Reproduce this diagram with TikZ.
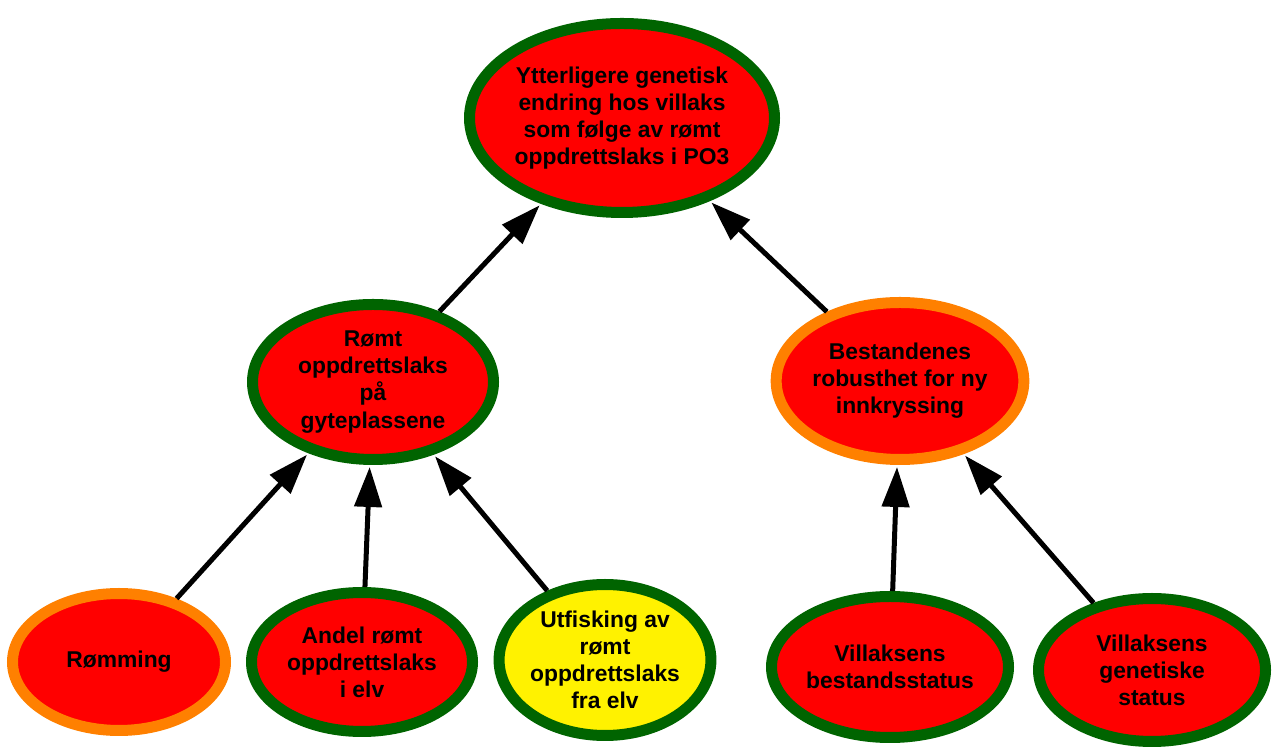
\documentclass[tikz,border=0pt]{standalone}
\usepackage{fontspec}
\setmainfont{Liberation Sans}
\usepackage{tikz}
\usetikzlibrary{shapes.geometric}
\usetikzlibrary{arrows.meta}
\definecolor{darkgreen}{RGB}{0,100,0}
\definecolor{riskorange}{RGB}{255,128,0}
\definecolor{riskyellow}{RGB}{255,242,0}
\tikzset{
	factor/.style={ellipse,draw=darkgreen,line width=0.22cm,fill=red,inner sep=0pt,align=center,
		font=\bfseries\fontsize{13}{15.4}\selectfont},
	%	warn/.style={draw=riskorange},
	edge/.style={-{Triangle[length=0.8cm,width=0.54cm]},line width=0.1cm,shorten >=0.04cm}
}
\begin{document}
\begin{tikzpicture}
	\useasboundingbox (0,0) rectangle (25.44,14.96);
	\node[factor,minimum width=6.1cm,minimum height=3.78cm] (top) at (12.44, 12.60) {Ytterligere genetisk\\endring hos villaks\\som følge av rømt\\oppdrettslaks i PO3};
	\node[factor,minimum width=4.82cm,minimum height=3.1cm] (romt) at (7.46, 7.32) {Rømt\\oppdrettslaks\\på\\gyteplassene};
	\node[factor,draw=riskorange,minimum width=4.86cm,minimum height=3.14cm] (robust) at (18.00, 7.34) {Bestandenes\\robusthet for ny\\innkryssing};
	
	\node[factor,draw=riskorange,minimum width=4.26cm,minimum height=2.74cm] (romming) at (2.38, 1.72) {Rømming};
	\node[factor,minimum width=4.42cm,minimum height=2.78cm] (andel) at (7.24, 1.72) {Andel rømt\\oppdrettslaks\\i elv};
	\node[factor,fill=riskyellow,minimum width=4.22cm,minimum height=3.02cm] (utfisk) at (12.10, 1.76) {Utfisking av\\rømt\\oppdrettslaks\\fra elv};
	\node[factor,minimum width=4.7cm,minimum height=2.82cm] (vbest) at (17.80, 1.62) {Villaksens\\bestandsstatus};
	\node[factor,minimum width=4.54cm,minimum height=2.86cm] (vgen) at (23.04, 1.56) {Villaksens\\genetiske\\status};
	
	\draw[edge] (romt) -- (top);
	\draw[edge] (robust) -- (top);
	\draw[edge] (romming) -- (romt);
	\draw[edge] (andel) -- (romt);
	\draw[edge] (utfisk) -- (romt);
	\draw[edge] (vbest) -- (robust);
	\draw[edge] (vgen) -- (robust);
\end{tikzpicture}
\end{document}
